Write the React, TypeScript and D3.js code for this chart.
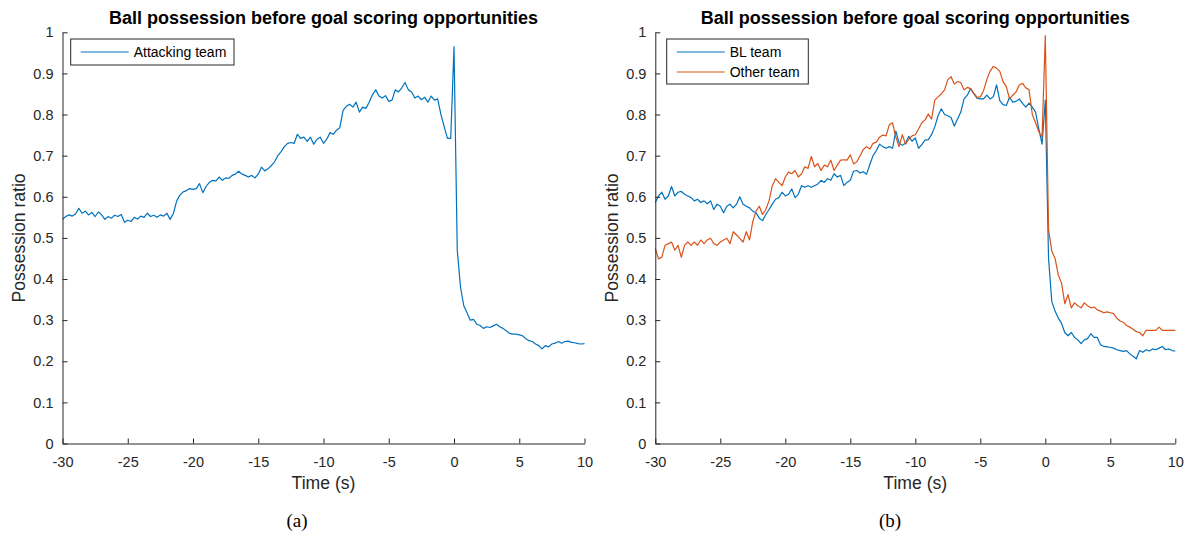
import React, { useEffect, useRef } from 'react';
import * as d3 from 'd3';

// sampled every 0.25 s from -30 s to 10 s (161 samples)
const T_START = -30;
const T_STEP = 0.25;

const attackingTeam = [
  0.545, 0.552, 0.556, 0.553,
  0.558, 0.572, 0.560, 0.565,
  0.556, 0.562, 0.552, 0.563,
  0.556, 0.545, 0.552, 0.548,
  0.555, 0.552, 0.557, 0.538,
  0.543, 0.540, 0.550, 0.546,
  0.553, 0.550, 0.560, 0.552,
  0.555, 0.550, 0.556, 0.553,
  0.560, 0.545, 0.560, 0.590,
  0.604, 0.612, 0.615, 0.620,
  0.618, 0.620, 0.632, 0.610,
  0.625, 0.635, 0.640, 0.638,
  0.648, 0.640, 0.646, 0.645,
  0.652, 0.655, 0.662, 0.655,
  0.652, 0.648, 0.652, 0.646,
  0.655, 0.672, 0.663, 0.668,
  0.676, 0.685, 0.700, 0.710,
  0.722, 0.730, 0.732, 0.730,
  0.752, 0.742, 0.745, 0.735,
  0.745, 0.728, 0.740, 0.745,
  0.730, 0.740, 0.756, 0.752,
  0.762, 0.768, 0.810, 0.820,
  0.825, 0.818, 0.830, 0.806,
  0.818, 0.815, 0.830, 0.848,
  0.860, 0.845, 0.840, 0.846,
  0.832, 0.835, 0.860, 0.855,
  0.865, 0.878, 0.860, 0.855,
  0.840, 0.845, 0.836, 0.842,
  0.830, 0.845, 0.835, 0.838,
  0.800, 0.770, 0.742, 0.742,
  0.965, 0.470, 0.380, 0.335,
  0.318, 0.300, 0.302, 0.290,
  0.287, 0.280, 0.284, 0.282,
  0.286, 0.290, 0.284, 0.280,
  0.274, 0.268, 0.266, 0.266,
  0.264, 0.262, 0.255, 0.250,
  0.248, 0.242, 0.238, 0.230,
  0.238, 0.235, 0.242, 0.244,
  0.248, 0.244, 0.248, 0.249,
  0.246, 0.245, 0.243, 0.242,
  0.243,
];

const blTeam = [
  0.586, 0.602, 0.611, 0.594,
  0.602, 0.625, 0.602, 0.611,
  0.613, 0.606, 0.602, 0.598,
  0.590, 0.594, 0.586, 0.590,
  0.583, 0.590, 0.569, 0.582,
  0.577, 0.561, 0.577, 0.582,
  0.573, 0.582, 0.600, 0.582,
  0.577, 0.573, 0.565, 0.561,
  0.548, 0.542, 0.557, 0.569,
  0.582, 0.594, 0.598, 0.611,
  0.602, 0.606, 0.619, 0.598,
  0.606, 0.627, 0.623, 0.627,
  0.623, 0.627, 0.631, 0.640,
  0.635, 0.644, 0.640, 0.656,
  0.648, 0.652, 0.627, 0.635,
  0.640, 0.662, 0.664, 0.658,
  0.661, 0.655, 0.678, 0.700,
  0.712, 0.728, 0.722, 0.718,
  0.722, 0.718, 0.760, 0.731,
  0.725, 0.731, 0.747, 0.735,
  0.743, 0.718, 0.727, 0.738,
  0.739, 0.751, 0.770, 0.797,
  0.814, 0.800, 0.797, 0.793,
  0.772, 0.789, 0.806, 0.838,
  0.847, 0.863, 0.851, 0.840,
  0.838, 0.838, 0.847, 0.838,
  0.843, 0.872, 0.834, 0.824,
  0.822, 0.842, 0.830, 0.832,
  0.838, 0.827, 0.818, 0.828,
  0.818, 0.806, 0.765, 0.728,
  0.835, 0.450, 0.345, 0.322,
  0.305, 0.292, 0.270, 0.262,
  0.270, 0.258, 0.252, 0.243,
  0.252, 0.255, 0.267, 0.258,
  0.258, 0.240, 0.236, 0.235,
  0.234, 0.232, 0.228, 0.226,
  0.224, 0.226, 0.218, 0.212,
  0.206, 0.226, 0.222, 0.228,
  0.225, 0.230, 0.228, 0.232,
  0.236, 0.228, 0.230, 0.226,
  0.225,
];

const otherTeam = [
  0.474, 0.449, 0.453, 0.482,
  0.486, 0.490, 0.470, 0.482,
  0.453, 0.482, 0.490, 0.482,
  0.490, 0.482, 0.495, 0.486,
  0.495, 0.499, 0.486, 0.482,
  0.490, 0.495, 0.499, 0.486,
  0.515, 0.507, 0.499, 0.490,
  0.515, 0.495, 0.540, 0.565,
  0.577, 0.557, 0.569, 0.590,
  0.627, 0.644, 0.635, 0.627,
  0.648, 0.660, 0.656, 0.664,
  0.648, 0.656, 0.673, 0.669,
  0.698, 0.673, 0.681, 0.664,
  0.677, 0.673, 0.689, 0.664,
  0.677, 0.689, 0.690, 0.689,
  0.702, 0.680, 0.685, 0.700,
  0.715, 0.722, 0.716, 0.730,
  0.733, 0.745, 0.750, 0.748,
  0.775, 0.780, 0.745, 0.722,
  0.751, 0.728, 0.740, 0.748,
  0.751, 0.765, 0.780, 0.787,
  0.801, 0.789, 0.835, 0.843,
  0.850, 0.860, 0.885, 0.892,
  0.874, 0.880, 0.878, 0.860,
  0.866, 0.863, 0.852, 0.842,
  0.843, 0.858, 0.885, 0.905,
  0.917, 0.913, 0.905, 0.880,
  0.868, 0.838, 0.847, 0.855,
  0.872, 0.876, 0.865, 0.860,
  0.800, 0.780, 0.758, 0.745,
  0.992, 0.520, 0.468, 0.450,
  0.410, 0.390, 0.340, 0.362,
  0.330, 0.342, 0.335, 0.330,
  0.342, 0.335, 0.330, 0.332,
  0.325, 0.322, 0.318, 0.320,
  0.318, 0.316, 0.305, 0.298,
  0.295, 0.287, 0.283, 0.278,
  0.272, 0.270, 0.262, 0.275,
  0.275, 0.275, 0.275, 0.283,
  0.275, 0.275, 0.275, 0.275,
  0.275,
];

const xTicks = [-30, -25, -20, -15, -10, -5, 0, 5, 10];
const yTicks = [0, 0.1, 0.2, 0.3, 0.4, 0.5, 0.6, 0.7, 0.8, 0.9, 1];

const TITLE = 'Ball possession before goal scoring opportunities';
const X_LABEL = 'Time (s)';
const Y_LABEL = 'Possession ratio';

const BLUE = '#0072BD';
const ORANGE = '#D95319';
const AXIS = '#262626';
const FONT = '"Liberation Sans", Arial, Helvetica, sans-serif';

interface Series {
  name: string;
  color: string;
  values: number[];
}

interface Panel {
  x0: number;
  x1: number;
  caption: string;
  captionX: number;
  legend: { x: number; y: number; w: number; h: number };
  series: Series[];
}

const panels: Panel[] = [
  {
    x0: 62.5,
    x1: 584.5,
    caption: '(a)',
    captionX: 297,
    legend: { x: 70.7, y: 39, w: 163.3, h: 26 },
    series: [{ name: 'Attacking team', color: BLUE, values: attackingTeam }],
  },
  {
    x0: 655.3,
    x1: 1175.3,
    caption: '(b)',
    captionX: 890,
    legend: { x: 666.7, y: 39, w: 141.6, h: 45 },
    series: [
      { name: 'BL team', color: BLUE, values: blTeam },
      { name: 'Other team', color: ORANGE, values: otherTeam },
    ],
  },
];

export default function App() {
  const svgRef = useRef<SVGSVGElement>(null);

  useEffect(() => {
    if (!svgRef.current) return;
    const svg = d3.select(svgRef.current);
    svg.selectAll('*').remove();

    const yTop = 32.3;
    const yBottom = 443.5;

    panels.forEach(p => {
      const g = svg.append('g');
      const x = d3.scaleLinear().domain([-30, 10]).range([p.x0, p.x1]);
      const y = d3.scaleLinear().domain([0, 1]).range([yBottom, yTop]);

      // Lines
      const line = d3.line<number>()
        .x((_, i) => x(T_START + i * T_STEP))
        .y(d => y(d));

      p.series.forEach(s => {
        g.append('path')
          .datum(s.values)
          .attr('fill', 'none')
          .attr('stroke', s.color)
          .attr('stroke-width', 1.2)
          .attr('stroke-linejoin', 'round')
          .attr('d', line);
      });

      // X axis (ticks pointing inward, MATLAB style)
      const xAxis = g.append('g')
        .attr('transform', `translate(0, ${yBottom})`)
        .call(d3.axisBottom(x).tickValues(xTicks).tickSizeInner(-5).tickSizeOuter(0).tickPadding(13)
          .tickFormat(d => String(d)));

      // Y axis
      const yAxis = g.append('g')
        .attr('transform', `translate(${p.x0}, 0)`)
        .call(d3.axisLeft(y).tickValues(yTicks).tickSizeInner(-5).tickSizeOuter(0).tickPadding(9)
          .tickFormat(d => String(+d)));

      [xAxis, yAxis].forEach(ax => {
        ax.select('.domain').attr('stroke', AXIS).attr('stroke-width', 1);
        ax.selectAll('.tick line').attr('stroke', AXIS).attr('stroke-width', 1);
        ax.selectAll('.tick text')
          .attr('fill', AXIS)
          .attr('font-family', FONT)
          .attr('font-size', 14.5);
      });

      // Title
      g.append('text')
        .attr('x', (p.x0 + p.x1) / 2)
        .attr('y', 23.5)
        .attr('text-anchor', 'middle')
        .attr('font-family', FONT)
        .attr('font-size', 18)
        .attr('font-weight', 'bold')
        .attr('fill', '#000')
        .text(TITLE);

      // Axis labels
      g.append('text')
        .attr('x', (p.x0 + p.x1) / 2)
        .attr('y', 489)
        .attr('text-anchor', 'middle')
        .attr('font-family', FONT)
        .attr('font-size', 17.6)
        .attr('fill', AXIS)
        .text(X_LABEL);

      g.append('text')
        .attr('transform', `translate(${p.x0 - 37.5}, ${(yTop + yBottom) / 2}) rotate(-90)`)
        .attr('text-anchor', 'middle')
        .attr('font-family', FONT)
        .attr('font-size', 17.6)
        .attr('fill', AXIS)
        .text(Y_LABEL);

      // Legend
      const lg = g.append('g');
      lg.append('rect')
        .attr('x', p.legend.x)
        .attr('y', p.legend.y)
        .attr('width', p.legend.w)
        .attr('height', p.legend.h)
        .attr('fill', '#fff')
        .attr('stroke', AXIS)
        .attr('stroke-width', 1);

      p.series.forEach((s, i) => {
        const ly = p.legend.y + 13 + i * 20;
        lg.append('line')
          .attr('x1', p.legend.x + 10)
          .attr('x2', p.legend.x + 58)
          .attr('y1', ly)
          .attr('y2', ly)
          .attr('stroke', s.color)
          .attr('stroke-width', 1.2);
        lg.append('text')
          .attr('x', p.legend.x + 63)
          .attr('y', ly + 5)
          .attr('font-family', FONT)
          .attr('font-size', 14)
          .attr('fill', '#000')
          .text(s.name);
      });

      // Sub-figure caption
      g.append('text')
        .attr('x', p.captionX)
        .attr('y', 527)
        .attr('text-anchor', 'middle')
        .attr('font-family', '"Liberation Serif", "Times New Roman", serif')
        .attr('font-size', 19)
        .attr('fill', '#000')
        .text(p.caption);
    });
  }, []);

  return (
    <svg
      ref={svgRef}
      width={1189}
      height={534}
      style={{ position: 'absolute', left: 0, top: 0, background: '#fff' }}
    />
  );
}
